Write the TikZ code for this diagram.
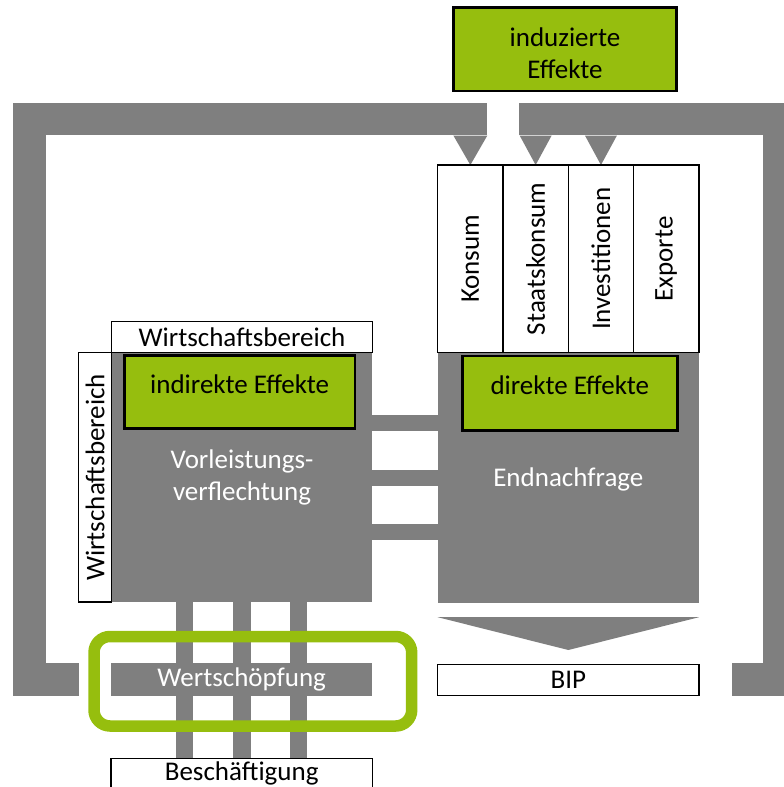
\documentclass[tikz,border=0pt]{standalone}
\usepackage{fontspec}
\setmainfont{Carlito}
\usetikzlibrary{positioning, backgrounds, calc}
\definecolor{figgray}{RGB}{127,127,127}
\definecolor{figgreen}{RGB}{150,190,14}
\tikzstyle{whitebox} = [rectangle, draw=black, line width=1.2pt, fill=white, text=black, inner sep=0pt, outer sep=0pt]
\tikzstyle{graybox} = [rectangle, fill=figgray, text=white, align=center, inner sep=0pt, outer sep=0pt]
\tikzstyle{greenbox} = [rectangle, draw=black, line width=2.5pt, fill=figgreen, text=black, align=center, inner sep=0pt, outer sep=0pt]
\tikzstyle{loopbar} = [draw=figgray, line width=32.5pt]
\tikzstyle{flowbar} = [draw=figgray, line width=16.3pt]
\tikzstyle{outbar} = [draw=figgray, line width=17.5pt]
\tikzstyle{arrowhead} = [fill=figgray]

\begin{document}
\begin{tikzpicture}[x=1pt, y=-1pt, font=\fontsize{27}{32}\selectfont]
\useasboundingbox (0,0) rectangle (784,787);
\clip (0,0) rectangle (784,787);

% Input-Output-Tabelle
\node (vorleistung) [graybox, minimum width=260.6pt, minimum height=249.3pt] at (242,477.35) {Vorleistungs-\\verflechtung};
\node (endnachfrage) [graybox, minimum width=261.3pt, minimum height=250pt, text height=22pt] at (568.35,477.7) {Endnachfrage};
\node (kopf) [whitebox, above=0pt of vorleistung, minimum width=260.6pt, minimum height=31pt] {Wirtschaftsbereich};
\node (seite) [whitebox, rotate=90, anchor=south, minimum width=249.3pt, minimum height=33.4pt] at (vorleistung.west) {Wirtschaftsbereich};

% Endnachfrage-Komponenten
\node (konsum) [whitebox, rotate=90, minimum width=187.7pt, minimum height=65.3pt] at (470.35,258.85) {Konsum};
\node (staatskonsum) [whitebox, rotate=90, minimum width=187.7pt, minimum height=65.3pt] at (535.65,258.85) {Staatskonsum};
\node (investitionen) [whitebox, rotate=90, minimum width=187.7pt, minimum height=65.3pt] at (600.95,258.85) {Investitionen};
\node (exporte) [whitebox, rotate=90, minimum width=187.7pt, minimum height=65.3pt] at (666.25,258.85) {Exporte};

% Effekte
\node (indirekt) [greenbox, minimum width=230.7pt, minimum height=72.6pt, text height=18pt, text depth=16pt] at (239.65,392) {indirekte Effekte};
\node (direkt) [greenbox, minimum width=215pt, minimum height=74.7pt, text height=18pt, text depth=16pt] at (569.8,393.35) {direkte Effekte};
\node (induziert) [greenbox, minimum width=223.4pt, minimum height=83.3pt, text height=58pt] at (565,49.35) {induzierte\\Effekte};

% Ergebnisse
\node (wertschoepfung) [graybox, minimum width=261.3pt, minimum height=32.7pt] at (241.65,679.35) {Wertschöpfung};
\node (bip) [whitebox, minimum width=261.3pt, minimum height=31.4pt] at (568.35,680) {BIP};
\node (beschaeftigung) [whitebox, minimum width=261.3pt, minimum height=31pt] at (241.65,773.8) {Beschäftigung};
\node (rahmen) [draw=figgreen, line width=11.5pt, rounded corners=16pt, minimum width=317.7pt, minimum height=89.5pt] at (252.85,681.25) {};

\begin{scope}[on background layer]
% Kreislauf
\draw[loopbar] (79,679.4) -- (29.3,679.4) -- (29.3,118.9) -- (487,118.9);
\draw[loopbar] (519,118.9) -- (779.3,118.9) -- (779.3,679.4) -- (732,679.4);
\fill[arrowhead] (konsum.east) -- ++(-17,-29.5) -- ++(34,0) -- cycle;
\fill[arrowhead] (staatskonsum.east) -- ++(-16,-29.5) -- ++(32,0) -- cycle;
\fill[arrowhead] (investitionen.east) -- ++(-16,-29.5) -- ++(32,0) -- cycle;

% Verflechtung
\draw[flowbar] (vorleistung.east |- 0,422.9) -- (endnachfrage.west |- 0,422.9);
\draw[flowbar] (vorleistung.east |- 0,477.9) -- (endnachfrage.west |- 0,477.9);
\draw[flowbar] (vorleistung.east |- 0,532) -- (endnachfrage.west |- 0,532);

% Wertschoepfung und Beschaeftigung
\draw[outbar] (184.5,0 |- vorleistung.south) -- (184.5,0 |- beschaeftigung.north);
\draw[outbar] (242,0 |- vorleistung.south) -- (242,0 |- beschaeftigung.north);
\draw[outbar] (298.7,0 |- vorleistung.south) -- (298.7,0 |- beschaeftigung.north);

% BIP
\fill[arrowhead] ($(endnachfrage.south west)+(0,14.5)$) -- ($(endnachfrage.south east)+(0,14.5)$) -- ($(bip.north)+(0,-14.3)$) -- cycle;
\end{scope}

\end{tikzpicture}
\end{document}
